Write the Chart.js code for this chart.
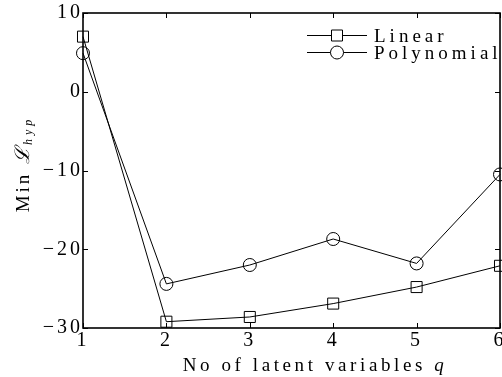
<!DOCTYPE html>
<html><head><meta charset="utf-8">
<script src="https://cdn.jsdelivr.net/npm/chart.js@4/dist/chart.umd.min.js"></script>
<style>html,body{margin:0;padding:0;background:#fff;}canvas{display:block;}</style>
</head><body>
<canvas id="c" width="502" height="377"></canvas>
<script>
const categories = [1, 2, 3, 4, 5, 6];
const linearValues = [7.0, -29.2, -28.6, -26.9, -24.8, -22.1];
const polynomialValues = [4.9, -24.4, -22.0, -18.7, -21.8, -10.5];
const xTicks = [1, 2, 3, 4, 5, 6];
const yTicks = [-30, -20, -10, 0, 10];
const seriesLabels = ['Linear', 'Polynomial'];
const xTitle = 'No of latent variables q';

const FONT = '"Liberation Serif", "DejaVu Serif", serif';

const toXY = vals => categories.map((c, i) => ({x: c, y: vals[i]}));

const spacingPlugin = {
  id: 'spacing',
  beforeDraw(chart) { chart.ctx.letterSpacing = '3px'; }
};

const framePlugin = {
  id: 'frame',
  afterDraw(chart) {
    const {ctx, chartArea: a, scales} = chart;
    ctx.save();
    ctx.strokeStyle = '#000';
    ctx.lineWidth = 1;
    const tl = 5;
    ctx.beginPath();
    xTicks.forEach(v => {
      const px = Math.round(scales.x.getPixelForValue(v)) + 0.5;
      ctx.moveTo(px, a.bottom); ctx.lineTo(px, a.bottom - tl);
      ctx.moveTo(px, a.top); ctx.lineTo(px, a.top + tl);
    });
    yTicks.forEach(v => {
      const py = Math.round(scales.y.getPixelForValue(v)) + 0.5;
      ctx.moveTo(a.left, py); ctx.lineTo(a.left + tl, py);
      ctx.moveTo(a.right, py); ctx.lineTo(a.right - tl, py);
    });
    ctx.stroke();
    ctx.lineWidth = 1.6;
    ctx.strokeRect(a.left, a.top, a.right - a.left, a.bottom - a.top);

    // legend
    ctx.lineWidth = 1;
    const lx0 = 307, lx1 = 367, mx = 337, tx = 374;
    const rows = [35, 52];
    chart.data.datasets.forEach((ds, i) => {
      const y = rows[i];
      ctx.beginPath();
      ctx.moveTo(lx0, y + 0.5); ctx.lineTo(lx1, y + 0.5);
      ctx.stroke();
      ctx.beginPath();
      if (ds.pointStyle === 'rect') {
        ctx.rect(mx - 5.5, y - 5, 11, 11);
      } else {
        ctx.arc(mx, y + 0.5, 6.5, 0, Math.PI * 2);
      }
      ctx.fillStyle = '#fff';
      ctx.fill();
      ctx.stroke();
      ctx.fillStyle = '#000';
      ctx.font = '19px ' + FONT;
      ctx.letterSpacing = '4px';
      ctx.textBaseline = 'alphabetic';
      ctx.textAlign = 'left';
      ctx.fillText(ds.label, tx, y + 7);
    });

    // x title
    ctx.font = '19px ' + FONT;
    ctx.letterSpacing = '3.6px';
    ctx.textAlign = 'left';
    const main = 'No of latent variables ';
    const wMain = ctx.measureText(main).width;
    ctx.font = 'italic 19px ' + FONT;
    const wq = ctx.measureText('q').width;
    const start = 315 - (wMain + wq) / 2;
    ctx.font = '19px ' + FONT;
    ctx.fillText(main, start, 371);
    ctx.font = 'italic 19px ' + FONT;
    ctx.fillText('q', start + wMain, 371);

    // y title
    ctx.save();
    ctx.translate(29, 164);
    ctx.rotate(-Math.PI / 2);
    ctx.textAlign = 'left';
    ctx.font = '19px ' + FONT;
    ctx.letterSpacing = '3px';
    const p1 = 'Min ';
    const w1 = ctx.measureText(p1).width;
    ctx.letterSpacing = '0px';
    ctx.font = 'italic 20px ' + FONT;
    const p2 = '\u2112';
    const w2 = ctx.measureText(p2).width + 2;
    ctx.font = 'italic 12px ' + FONT;
    ctx.letterSpacing = '4px';
    const p3 = 'hyp';
    const w3 = ctx.measureText(p3).width;
    let x = -(w1 + w2 + w3) / 2;
    ctx.font = '19px ' + FONT; ctx.letterSpacing = '3px';
    ctx.fillText(p1, x, 0); x += w1;
    ctx.font = 'italic 20px ' + FONT; ctx.letterSpacing = '0px';
    ctx.fillText(p2, x, 0); x += w2;
    ctx.font = 'italic 12px ' + FONT; ctx.letterSpacing = '4px';
    ctx.fillText(p3, x, 3);
    ctx.restore();

    ctx.restore();
    ctx.letterSpacing = '0px';
  }
};

new Chart(document.getElementById('c'), {
  type: 'line',
  data: {
    datasets: [
      {label: seriesLabels[0], data: toXY(linearValues), pointStyle: 'rect', pointRadius: 7.8,
       borderColor: '#000', borderWidth: 1, pointBorderWidth: 1, pointBackgroundColor: 'rgba(0,0,0,0)',
       pointBorderColor: '#000', fill: false, tension: 0, clip: false},
      {label: seriesLabels[1], data: toXY(polynomialValues), pointStyle: 'circle', pointRadius: 6.5,
       borderColor: '#000', borderWidth: 1, pointBorderWidth: 1, pointBackgroundColor: 'rgba(0,0,0,0)',
       pointBorderColor: '#000', fill: false, tension: 0, clip: false}
    ]
  },
  options: {
    responsive: false,
    animation: false,
    layout: {autoPadding: false, padding: {top: 13, right: 2, left: 0, bottom: 0}},
    plugins: {legend: {display: false}, tooltip: {enabled: false}},
    scales: {
      x: {
        type: 'linear', min: 1, max: 6,
        grid: {display: false, drawTicks: false}, border: {display: false},
        afterBuildTicks: s => { s.ticks = xTicks.map(v => ({value: v})); },
        ticks: {color: '#000', font: {family: FONT, size: 20}, padding: 1, maxRotation: 0,
                callback: v => String(v)},
        afterFit: s => { s.height = 49; s.paddingLeft = 0; s.paddingRight = 0; }
      },
      y: {
        type: 'linear', min: -30, max: 10,
        grid: {display: false, drawTicks: false}, border: {display: false},
        afterBuildTicks: s => { s.ticks = yTicks.map(v => ({value: v})); },
        ticks: {color: '#000', font: {family: FONT, size: 20}, padding: 0,
                callback: v => v < 0 ? '\u2212' + Math.abs(v) : String(v)},
        afterFit: s => { s.width = 83; s.paddingTop = 0; s.paddingBottom = 0; }
      }
    }
  },
  plugins: [spacingPlugin, framePlugin]
});
</script>
</body></html>
